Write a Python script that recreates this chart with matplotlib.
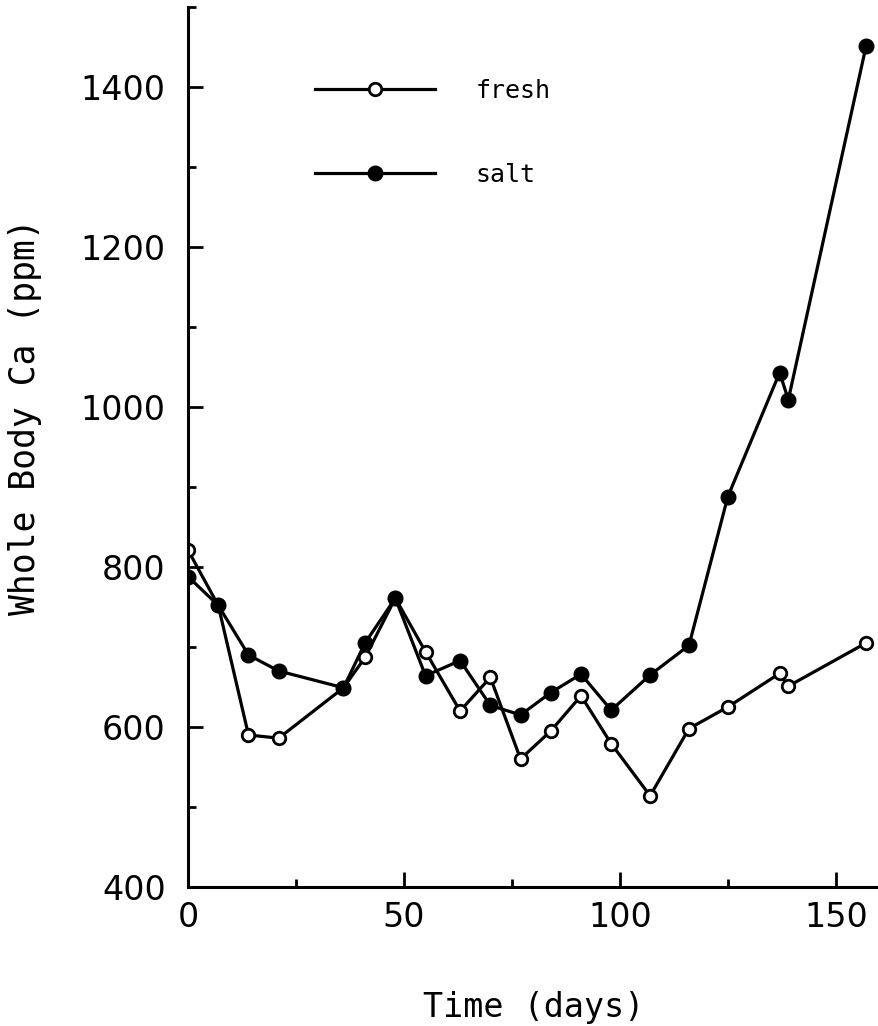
import numpy as np
import matplotlib.pyplot as plt
from matplotlib.ticker import MultipleLocator

'''data read off the figure'''
days = [0, 7, 14, 21, 36, 41, 48, 55, 63, 70, 77, 84, 91, 98, 107, 116, 125, 137, 139, 157]
fresh = [821, 752, 590, 586, 649, 687, 761, 694, 620, 662, 560, 595, 639, 579, 514, 598, 625, 667, 651, 705]
salt = [788, 752, 690, 670, 649, 705, 761, 664, 683, 627, 615, 643, 666, 621, 665, 702, 888, 1043, 1009, 1451]

x_ticks = [0, 50, 100, 150]
y_ticks = [400, 600, 800, 1000, 1200, 1400]

fig = plt.figure(figsize=(8.79, 10.26), dpi=100)
ax = fig.add_axes([0.2139, 0.1355, 0.7861, 0.8577])

'''plot both series, fresh first so salt sits on top'''
ax.plot(days, fresh, '-o', color='black', lw=2.3, ms=9, mfc='white', mec='black', mew=2,
        label='fresh')
ax.plot(days, salt, '-o', color='black', lw=2.3, ms=10.5, mfc='black', mec='black',
        label='salt')

ax.set_xlim(0, 160)
ax.set_ylim(400, 1500)
ax.set_xticks(x_ticks)
ax.set_yticks(y_ticks)
ax.xaxis.set_minor_locator(MultipleLocator(25))
ax.yaxis.set_minor_locator(MultipleLocator(100))

for side in ['top', 'right']:
    ax.spines[side].set_visible(False)
for side in ['left', 'bottom']:
    ax.spines[side].set_linewidth(2.2)

ax.tick_params(which='major', direction='in', length=11, width=2, labelsize=24)
ax.tick_params(which='minor', direction='in', length=6, width=2)
ax.tick_params(axis='y', which='major', pad=16)
ax.tick_params(axis='x', which='major', pad=10)

ax.set_xlabel('Time (days)', family='DejaVu Sans Mono', fontsize=24)
ax.set_ylabel('Whole Body Ca (ppm)', family='DejaVu Sans Mono', fontsize=25)
ax.xaxis.set_label_coords(0.5, -0.118)
ax.yaxis.set_label_coords(-0.212, 0.534)

ax.legend(loc='center left', bbox_to_anchor=(0.184, 0.857), frameon=False,
          numpoints=1, handlelength=4.8, handletextpad=1.6, labelspacing=2.4,
          borderpad=0, borderaxespad=0,
          prop={'family': 'DejaVu Sans Mono', 'size': 18})

fig.savefig('out.png', dpi=100)
